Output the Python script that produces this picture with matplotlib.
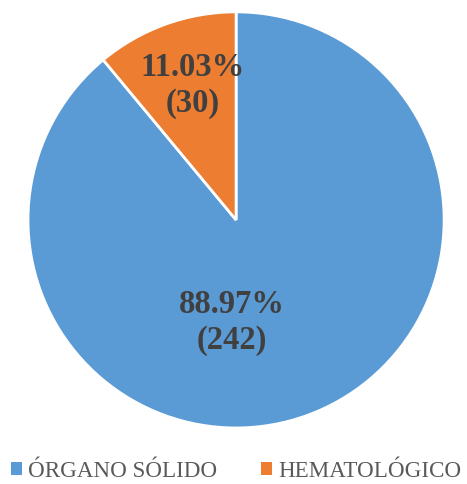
import matplotlib.pyplot as plt
from matplotlib.patches import Patch

categories = ['ÓRGANO SÓLIDO', 'HEMATOLÓGICO']
counts = [242, 30]
percents = ['88.97%', '11.03%']
colors = ['#5B9BD5', '#ED7D31']

plt.rcParams['font.family'] = ['Liberation Serif', 'DejaVu Serif']

fig = plt.figure(figsize=(4.67, 4.85), dpi=100)
ax = fig.add_axes([0.06, 0.1155, 0.891, 0.858])

wedges, _ = ax.pie(counts, colors=colors, startangle=90, counterclock=False,
                   wedgeprops=dict(edgecolor='white', linewidth=2), radius=1)
ax.set_xlim(-1, 1)
ax.set_ylim(-1, 1)
ax.set_aspect('equal')

# label spots (fraction of radius), as Excel placed them
label_pos = [(-0.02, -0.49), (-0.21, 0.65)]
for (x, y), pct, n in zip(label_pos, percents, counts):
    ax.text(x, y, f'{pct}\n({n})', ha='center', va='center', fontsize=23.5,
            fontweight='bold', color='#404040', linespacing=1.2)

handles = [Patch(facecolor=c, edgecolor='none') for c in colors]
fig.legend(handles, categories, loc='center', bbox_to_anchor=(0.505, 0.027), ncol=2,
           frameon=False, fontsize=16.6, handlelength=0.5, handleheight=0.5,
           handletextpad=0.25, columnspacing=1.9, labelcolor='#595959',
           borderpad=0, borderaxespad=0)

fig.savefig('out.png', dpi=100)
